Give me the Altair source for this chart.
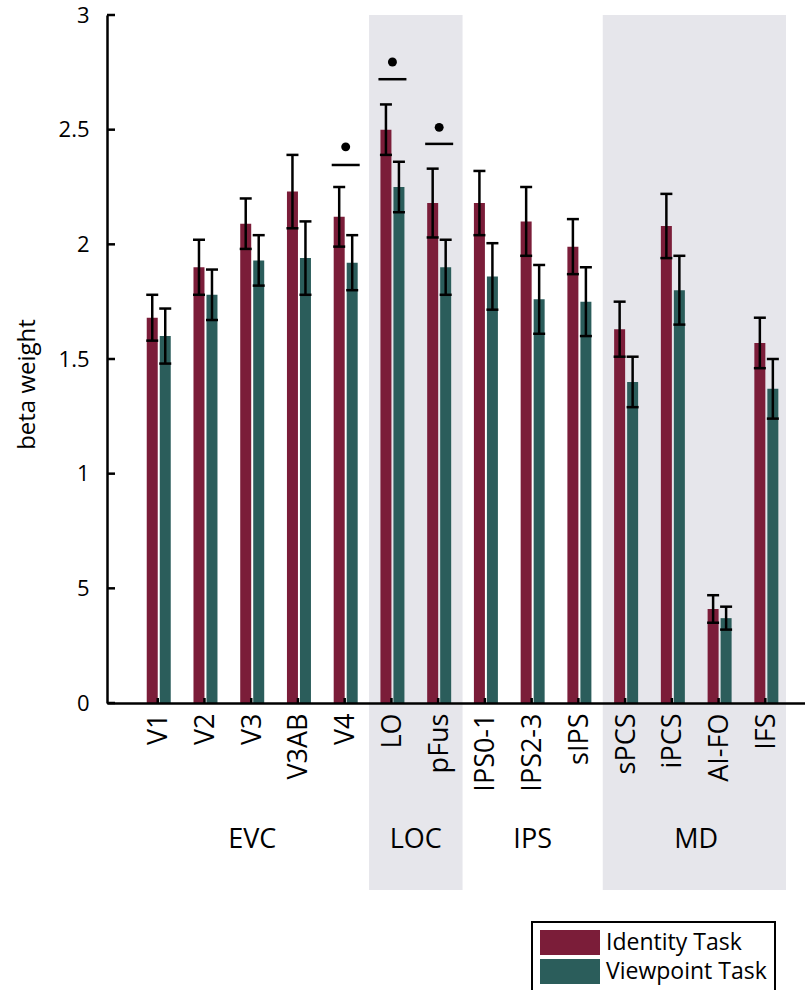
import json
import altair as alt
import pandas as pd

regions = ["V1", "V2", "V3", "V3AB", "V4", "LO", "pFus", "IPS0-1", "IPS2-3",
           "sIPS", "sPCS", "iPCS", "AI-FO", "IFS"]
identity = [1.68, 1.90, 2.09, 2.23, 2.12, 2.50, 2.18, 2.18, 2.10, 1.99, 1.63, 2.08, 0.41, 1.57]
identity_err = [0.10, 0.12, 0.11, 0.16, 0.13, 0.11, 0.15, 0.14, 0.15, 0.12, 0.12, 0.14, 0.06, 0.11]
viewpoint = [1.60, 1.78, 1.93, 1.94, 1.92, 2.25, 1.90, 1.86, 1.76, 1.75, 1.40, 1.80, 0.37, 1.37]
viewpoint_err = [0.12, 0.11, 0.11, 0.16, 0.12, 0.11, 0.12, 0.145, 0.15, 0.15, 0.11, 0.15, 0.05, 0.13]

tasks = ["Identity Task", "Viewpoint Task"]
task_colors = ["#7b1d39", "#2b5d5b"]

groups = ["EVC", "LOC", "IPS", "MD"]
group_centers = [2, 5.5, 8, 11.5]
shade_start = [4.5, 9.5]
shade_end = [6.5, 13.42]

sig_idx = [4, 5, 6]
sig_line = [2.346, 2.72, 2.438]
sig_dot = [2.425, 2.795, 2.51]

y_ticks = [0, 0.5, 1, 1.5, 2, 2.5, 3]

idx = list(range(len(regions)))


def task_df(vals, errs, task):
    return pd.DataFrame({
        "idx": idx,
        "region": regions,
        "value": vals,
        "lo": [v - e for v, e in zip(vals, errs)],
        "hi": [v + e for v, e in zip(vals, errs)],
        "task": task,
    })


id_df = task_df(identity, identity_err, tasks[0])
vp_df = task_df(viewpoint, viewpoint_err, tasks[1])
shade_df = pd.DataFrame({"x0": shade_start, "x1": shade_end})
group_df = pd.DataFrame({"g": groups, "gx": group_centers})
sig_df = pd.DataFrame({"idx": sig_idx, "line": sig_line, "dot": sig_dot})
tick_df = pd.DataFrame({"idx": idx})
ytick_df = pd.DataFrame({"t": y_ticks})

xscale = alt.Scale(domain=[-1, 13.72], nice=False, zero=False)
yscale = alt.Scale(domain=[0, 3], nice=False)

xaxis = alt.Axis(
    values=idx,
    labelExpr=json.dumps(regions) + "[datum.value]",
    labelAngle=-90,
    labelFontSize=27,
    labelPadding=10,
    labelColor="black",
    ticks=False,
    grid=False,
    domainColor="black",
    domainWidth=2.5,
    title=None,
    zindex=1,
)
yaxis = alt.Axis(
    values=y_ticks,
    labelExpr="datum.value == 0.5 ? '5' : format(datum.value, '~g')",
    labelFontSize=22,
    labelPadding=18,
    labelColor="black",
    ticks=False,
    grid=False,
    domainColor="black",
    domainWidth=2.5,
    title="beta weight",
    titleFontSize=24,
    titleFontWeight="normal",
    titleColor="black",
    titleX=-80,
    titleY=369,
    titleAlign="center",
    titleBaseline="middle",
    zindex=1,
)


def X(field):
    return alt.X(field, scale=xscale, axis=xaxis)


def Y(field):
    return alt.Y(field, scale=yscale, axis=yaxis)


color = alt.Color(
    "task:N",
    scale=alt.Scale(domain=tasks, range=task_colors),
    legend=alt.Legend(
        title=None,
        orient="none",
        legendX=425,
        legendY=907,
        symbolType="M-1,-1H3.8V1H-1Z",
        symbolSize=625,
        symbolStrokeWidth=0,
        symbolOpacity=1,
        labelFontSize=23,
        labelLimit=400,
        labelColor="black",
        labelOffset=41,
        strokeColor="black",
        fillColor="white",
        padding=8,
        rowPadding=4,
    ),
)

shade = alt.Chart(shade_df).mark_rect(color="#e6e6eb").encode(
    x=X("x0:Q"), x2="x1:Q", y=alt.value(0), y2=alt.value(875)
)

layers = [shade]
for df, off in [(id_df, -6.5), (vp_df, 6.5)]:
    base = alt.Chart(df)
    layers.append(base.mark_bar(width=11, xOffset=off).encode(
        x=X("idx:Q"), y=Y("value:Q"), color=color))
    layers.append(base.mark_rule(color="black", strokeWidth=2.5, xOffset=off).encode(
        x=X("idx:Q"), y=Y("lo:Q"), y2="hi:Q"))
    for f in ["lo", "hi"]:
        layers.append(base.mark_tick(color="black", orient="horizontal", size=12,
                                     thickness=2.5, xOffset=off, opacity=1).encode(
            x=X("idx:Q"), y=Y(f + ":Q")))

inner_xticks = alt.Chart(tick_df).mark_rule(color="black", strokeWidth=2.5, xOffset=-1).encode(
    x=X("idx:Q"), y=alt.value(688), y2=alt.value(683))

inner_yticks = alt.Chart(ytick_df).mark_rule(color="black", strokeWidth=2.5).encode(
    x=alt.value(0), x2=alt.value(8), y=Y("t:Q"))

sig_lines = alt.Chart(sig_df).mark_tick(color="black", orient="horizontal", size=28,
                                        thickness=2.5, opacity=1).encode(
    x=X("idx:Q"), y=Y("line:Q"))
sig_dots = alt.Chart(sig_df).mark_circle(color="black", size=80, opacity=1).encode(
    x=X("idx:Q"), y=Y("dot:Q"))

group_text = alt.Chart(group_df).mark_text(fontSize=27, color="black", baseline="middle").encode(
    x=X("gx:Q"), y=alt.value(825), text="g:N")

layers += [inner_xticks, inner_yticks, sig_lines, sig_dots, group_text]

chart = alt.layer(*layers).properties(
    width=698,
    height=688,
    autosize=alt.AutoSizeParams(type="none"),
    padding={"left": 107, "top": 15, "right": 0, "bottom": 287},
).configure(font="Open Sans").configure_view(stroke=None).configure_legend(strokeWidth=2)

chart.save("out.html", embed_options={"renderer": "svg", "actions": False})
